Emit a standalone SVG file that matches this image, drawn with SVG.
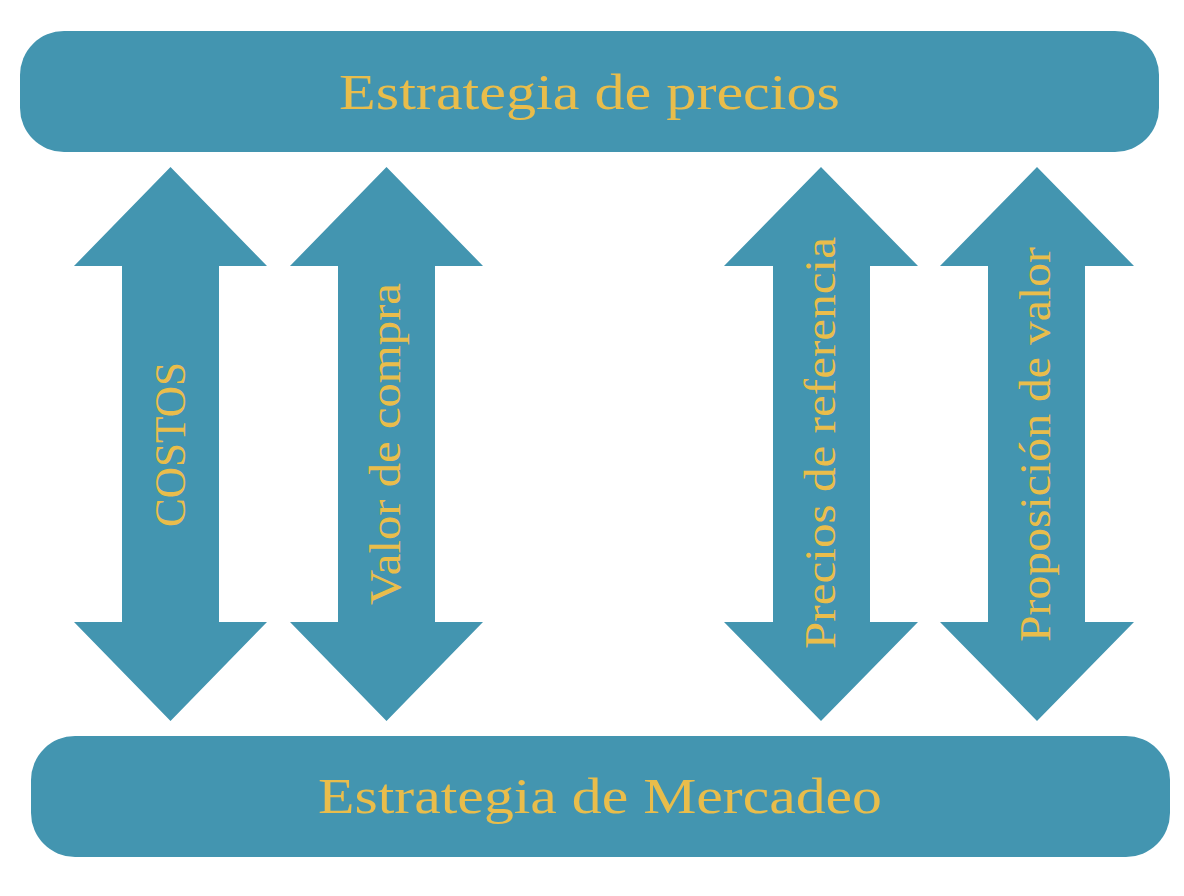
<svg xmlns="http://www.w3.org/2000/svg" width="1184" height="896" viewBox="0 0 1184 896">
<style>
.shape{fill:#4395B0;}
.lbl{fill:#E9BD4B;font-family:"Liberation Serif","DejaVu Serif",serif;}
.h{font-size:51px;text-anchor:middle;}
.v{font-size:45px;text-anchor:middle;}
</style>
<rect width="1184" height="896" fill="#FFFFFF"/>
<g id="top">
<rect class="shape" x="20" y="31" width="1139" height="121" rx="44" ry="44"/>
<text class="lbl h" x="589.5" y="109" textLength="501" lengthAdjust="spacingAndGlyphs">Estrategia de precios</text>
</g>
<g id="bottom">
<rect class="shape" x="31" y="736" width="1139" height="121" rx="44" ry="44"/>
<text class="lbl h" x="600" y="813" textLength="564" lengthAdjust="spacingAndGlyphs">Estrategia de Mercadeo</text>
</g>
<g id="connectors">
<g id="arrow-costos">
<polygon class="shape" points="170.5,167 267,266 219,266 219,622 267,622 170.5,721 74,622 122,622 122,266 74,266"/>
<text class="lbl v" transform="translate(185,444.5) rotate(-90)" textLength="165" lengthAdjust="spacingAndGlyphs">COSTOS</text>
</g>
<g id="arrow-valor-compra">
<polygon class="shape" points="386.5,167 483,266 435,266 435,622 483,622 386.5,721 290,622 338,622 338,266 290,266"/>
<text class="lbl v" transform="translate(400,444) rotate(-90)" textLength="322" lengthAdjust="spacingAndGlyphs">Valor de compra</text>
</g>
<g id="arrow-precios-ref">
<polygon class="shape" points="821,167 918,266 870,266 870,622 918,622 821,721 724,622 773,622 773,266 724,266"/>
<text class="lbl v" transform="translate(835,443) rotate(-90)" textLength="412" lengthAdjust="spacingAndGlyphs">Precios de referencia</text>
</g>
<g id="arrow-propuesta">
<polygon class="shape" points="1037,167 1134,266 1085,266 1085,622 1134,622 1037,721 940,622 988,622 988,266 940,266"/>
<text class="lbl v" transform="translate(1050,444.5) rotate(-90)" textLength="395" lengthAdjust="spacingAndGlyphs">Proposición de valor</text>
</g>
</g>
</svg>
